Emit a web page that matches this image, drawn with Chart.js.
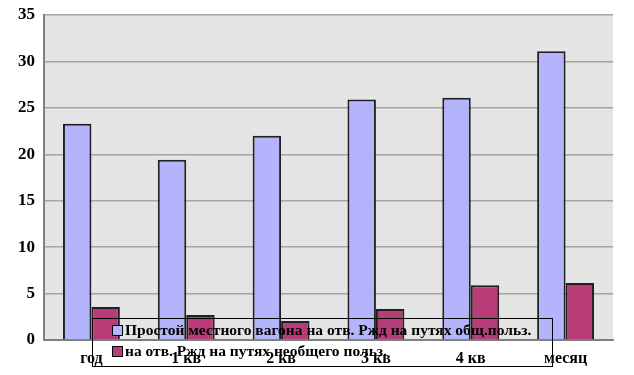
<!DOCTYPE html>
<html>
<head>
<meta charset="utf-8">
<script src="https://cdn.jsdelivr.net/npm/chart.js@4/dist/chart.umd.min.js"></script>
<style>
  html, body { margin: 0; padding: 0; background: #fff; }
  #wrap { width: 634px; height: 375px; }
</style>
</head>
<body>
<div id="wrap"><canvas id="chart" width="634" height="375"></canvas></div>
<script>
const categories = ['год', '1 кв', '2 кв', '3 кв', '4 кв', 'месяц'];
const seriesNames = ['Простой местного вагона на отв. Ржд на путях общ.польз.', 'на отв. Ржд на путях необщего польз.'];
const localWagon = [23.3, 19.4, 22.0, 25.9, 26.1, 31.1];
const otherTracks = [3.55, 2.7, 2.05, 3.35, 5.9, 6.15];
const yTicks = [0, 5, 10, 15, 20, 25, 30, 35];

const colors = {
    blue: '#b4b4fc',
    red: '#b83c78',
    edge: '#202020',
    plotBg: '#e4e4e4',
    grid: '#a4a4a4',
    axis: '#808080'
};
const serif = '"Liberation Serif", "DejaVu Serif", serif';

const plotBackground = {
    id: 'plotBackground',
    beforeDraw(chart) {
        const { ctx, chartArea: a } = chart;
        ctx.save();
        ctx.fillStyle = colors.plotBg;
        ctx.fillRect(a.left, a.top, a.right - a.left, a.bottom - a.top);
        ctx.fillStyle = '#ececec';
        for (let y = a.top + 2; y < a.bottom; y += 4) {
            for (let x = a.left + 2; x < a.right; x += 4) ctx.fillRect(x, y, 1, 1);
        }
        ctx.restore();
    }
};

const boxLegend = {
    id: 'boxLegend',
    afterDatasetsDraw(chart) {
        const { ctx } = chart;
        const x = 92, y = 318, w = 460, h = 48;
        ctx.save();
        ctx.strokeStyle = '#000';
        ctx.lineWidth = 1;
        ctx.strokeRect(x + 0.5, y + 0.5, w, h);
        ctx.font = 'bold 15.5px ' + serif;
        ctx.textBaseline = 'middle';
        chart.data.datasets.forEach((ds, i) => {
            const cy = y + 13 + i * 21;
            ctx.fillStyle = ds.backgroundColor;
            ctx.fillRect(x + 20, cy - 6, 11, 11);
            ctx.strokeStyle = '#000';
            ctx.strokeRect(x + 20.5, cy - 5.5, 10, 10);
            ctx.fillStyle = '#000';
            ctx.fillText(ds.label, x + 33, cy);
        });
        ctx.restore();
    }
};

new Chart(document.getElementById('chart').getContext('2d'), {
    type: 'bar',
    data: {
        labels: categories,
        datasets: [
            { label: seriesNames[0], data: localWagon, backgroundColor: colors.blue, borderColor: colors.edge, borderWidth: 2, categoryPercentage: 0.6, barPercentage: 1 },
            { label: seriesNames[1], data: otherTracks, backgroundColor: colors.red, borderColor: colors.edge, borderWidth: 2, categoryPercentage: 0.6, barPercentage: 1 }
        ]
    },
    options: {
        responsive: false,
        animation: false,
        layout: { padding: { top: 15, right: 21, left: 0, bottom: 0 } },
        plugins: { legend: { display: false }, tooltip: { enabled: false } },
        scales: {
            x: {
                grid: { display: false, drawTicks: false },
                border: { color: colors.axis, width: 2 },
                ticks: { color: '#000', font: { family: serif, size: 16, weight: 'bold' }, padding: 9, z: 1 },
                afterFit(scale) { scale.height = 35; }
            },
            y: {
                min: 0,
                max: 35,
                afterBuildTicks(scale) { scale.ticks = yTicks.map(v => ({ value: v })); },
                grid: { color: colors.grid, lineWidth: 1.5, drawTicks: false },
                border: { color: colors.axis, width: 2 },
                ticks: { color: '#000', font: { family: serif, size: 17, weight: 'bold' }, padding: 9 },
                afterFit(scale) { scale.width = 44; scale.paddingTop = 0; scale.paddingBottom = 0; }
            }
        }
    },
    plugins: [plotBackground, boxLegend]
});
</script>
</body>
</html>
